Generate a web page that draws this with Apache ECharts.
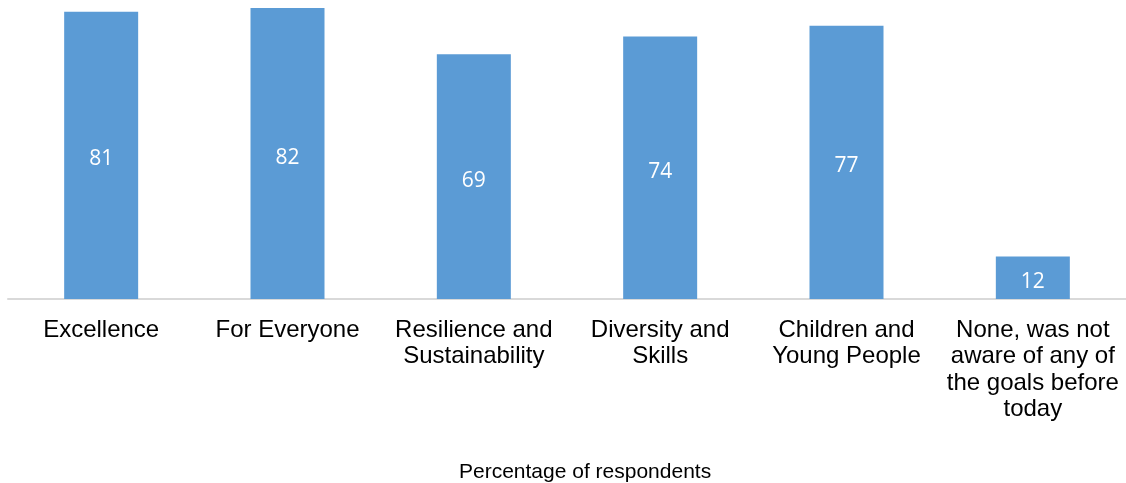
<!DOCTYPE html>
<html>
<head>
<meta charset="utf-8">
<script src="https://cdn.jsdelivr.net/npm/echarts@6/dist/echarts.min.js"></script>
<style>
  html, body { margin: 0; padding: 0; background: #ffffff; }
  #chart { width: 1126px; height: 483px; }
</style>
</head>
<body>
<div id="chart"></div>
<script>
// Goals respondents were aware of before today
const categories = [
  'Excellence',
  'For Everyone',
  'Resilience and\nSustainability',
  'Diversity and\nSkills',
  'Children and\nYoung People',
  'None, was not\naware of any of\nthe goals before\ntoday'
];
const percentages = [81, 82, 69, 74, 77, 12];
const axisTitle = 'Percentage of respondents';

const chart = echarts.init(document.getElementById('chart'), null, { renderer: 'canvas' });

chart.setOption({
  animation: false,
  backgroundColor: '#ffffff',
  title: {
    text: axisTitle,
    left: 454,
    top: 457,
    textStyle: {
      fontFamily: 'Liberation Sans, Arial, sans-serif',
      fontSize: 21,
      fontWeight: 'normal',
      color: '#000000'
    }
  },
  grid: { left: 8, right: 0, top: 1, bottom: 184, containLabel: false },
  xAxis: {
    type: 'category',
    data: categories,
    axisLine: { show: true, lineStyle: { color: '#d9d9d9', width: 2 } },
    axisTick: { show: false },
    axisLabel: {
      interval: 0,
      margin: 18,
      fontFamily: 'Liberation Sans, Arial, sans-serif',
      fontSize: 24,
      lineHeight: 26.5,
      color: '#000000',
      align: 'center'
    }
  },
  yAxis: {
    type: 'value',
    min: 0,
    max: 84,
    show: false,
    splitLine: { show: false }
  },
  series: [{
    type: 'bar',
    data: percentages,
    barWidth: 74,
    itemStyle: { color: '#5b9bd5' },
    label: {
      show: true,
      position: 'inside',
      offset: [0, 4],
      color: '#ffffff',
      fontFamily: 'Open Sans, sans-serif',
      fontSize: 21
    }
  }]
});
</script>
</body>
</html>
